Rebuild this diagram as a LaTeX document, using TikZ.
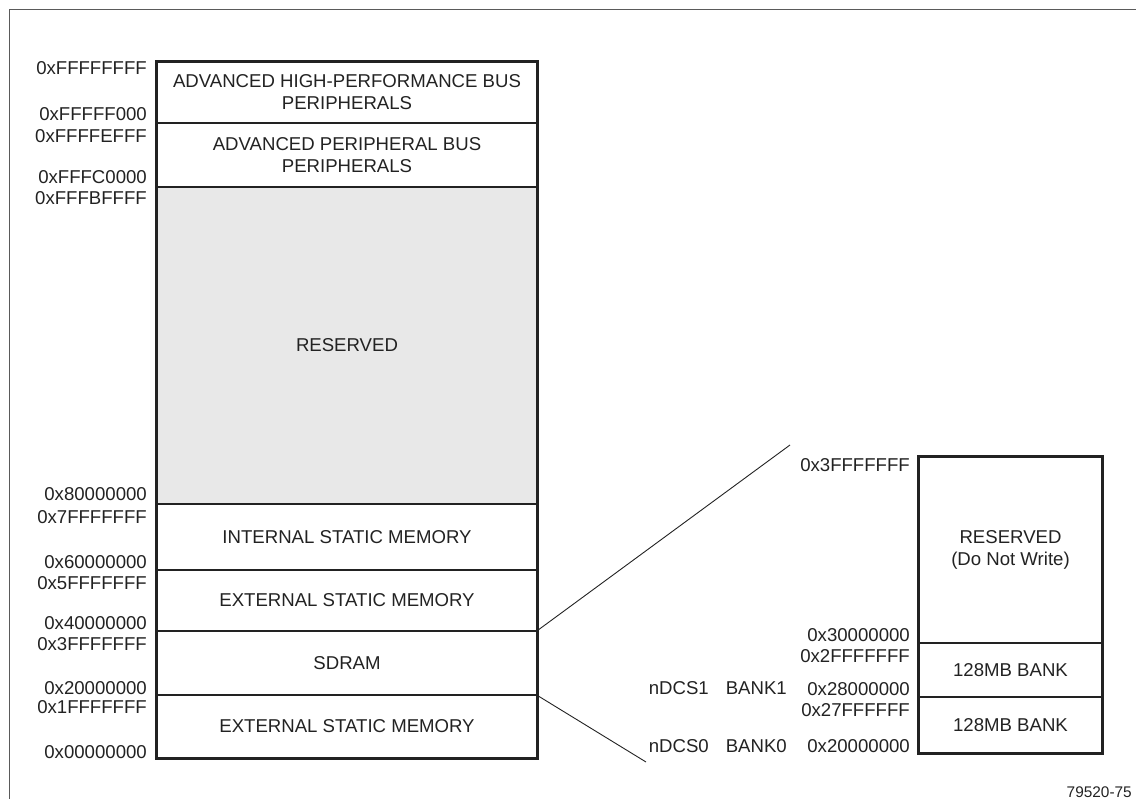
\documentclass[tikz,border=0pt]{standalone}
\usepackage{fontspec}
\setmainfont{Liberation Sans}
\definecolor{ink}{HTML}{222222}
\definecolor{resfill}{HTML}{E8E8E8}
\definecolor{framegray}{HTML}{5A5A5A}
\begin{document}
\begin{tikzpicture}[x=1pt,y=-1pt,
  every node/.style={font=\fontsize{18.6}{22}\selectfont, text=ink},
  region/.style={draw=ink, line width=1.1pt, rectangle, inner sep=0pt,
    align=center, minimum width=380pt},
  bankreg/.style={draw=ink, line width=1.1pt, rectangle, inner sep=0pt,
    align=center, minimum width=183pt},
  addr/.style={anchor=base east, inner sep=0pt},
  csel/.style={anchor=base east, inner sep=0pt},
  outline/.style={draw=ink, line width=2.4pt},
  zoomline/.style={draw=ink, line width=0.9pt}]

\useasboundingbox (0,0) rectangle (1136,799);

% partial page frame
\draw[framegray, line width=1.6pt] (9.5,799) -- (9.5,9.5) -- (1136,9.5);

% main memory map regions
\node[region, minimum height=61pt] (ahb) at (347,92.5)
  {ADVANCED HIGH-PERFORMANCE BUS\\PERIPHERALS};
\node[region, minimum height=64pt] (apb) at (347,155)
  {ADVANCED PERIPHERAL BUS\\PERIPHERALS};
\node[region, fill=resfill, minimum height=317pt] (res) at (347,345.5) {RESERVED};
\node[region, minimum height=66pt] (ism) at (347,537) {INTERNAL STATIC MEMORY};
\node[region, minimum height=61pt] (esm) at (347,600.5) {EXTERNAL STATIC MEMORY};
\node[region, minimum height=64pt] (sdram) at (347,663) {SDRAM};
\node[region, minimum height=63pt] (esmz) at (347,726.5) {EXTERNAL STATIC MEMORY};
\draw[outline] (ahb.north west) rectangle (esmz.south east);

% addresses of the main map
\node[addr] (a1) at (147,75) {0xFFFFFFFF};
\node[addr] (a2) at (147,121) {0xFFFFF000};
\node[addr] (a3) at (147,143) {0xFFFFEFFF};
\node[addr] (a4) at (147,184) {0xFFFC0000};
\node[addr] (a5) at (147,205) {0xFFFBFFFF};
\node[addr] (a6) at (147,501) {0x80000000};
\node[addr] (a7) at (147,524) {0x7FFFFFFF};
\node[addr] (a8) at (147,568) {0x60000000};
\node[addr] (a9) at (147,589) {0x5FFFFFFF};
\node[addr] (a10) at (147,629) {0x40000000};
\node[addr] (a11) at (147,650) {0x3FFFFFFF};
\node[addr] (a12) at (147,694) {0x20000000};
\node[addr] (a13) at (147,713) {0x1FFFFFFF};
\node[addr] (a14) at (147,758) {0x00000000};

% SDRAM detail map
\node[bankreg, minimum height=186pt] (rsv) at (1010.5,550)
  {RESERVED\\(Do Not Write)};
\node[bankreg, minimum height=54pt] (bank1) at (1010.5,670) {128MB BANK};
\node[bankreg, minimum height=56pt] (bank0) at (1010.5,725) {128MB BANK};
\draw[outline] (rsv.north west) rectangle (bank0.south east);

\node[addr] (b1) at (910,472) {0x3FFFFFFF};
\node[addr] (b2) at (910,641) {0x30000000};
\node[addr] (b3) at (910,662) {0x2FFFFFFF};
\node[addr] (b4) at (910,695) {0x28000000};
\node[addr] (b5) at (910,716) {0x27FFFFFF};
\node[addr] (b6) at (910,752) {0x20000000};

\node[csel] (cs1) at (709,694) {nDCS1};
\node[csel] (bk1) at (787,694) {BANK1};
\node[csel] (cs0) at (709,752) {nDCS0};
\node[csel] (bk0) at (787,752) {BANK0};

% expansion lines from SDRAM to its detail
\coordinate (zt) at (790,445);
\coordinate (zb) at (646,762);
\draw[zoomline] (sdram.north east) -- (zt);
\draw[zoomline] (sdram.south east) -- (zb);

% drawing number
\node[anchor=base east, inner sep=0pt, font=\fontsize{15.4}{18}\selectfont] (dn)
  at (1132,797.5) {79520-75};
\end{tikzpicture}
\end{document}
